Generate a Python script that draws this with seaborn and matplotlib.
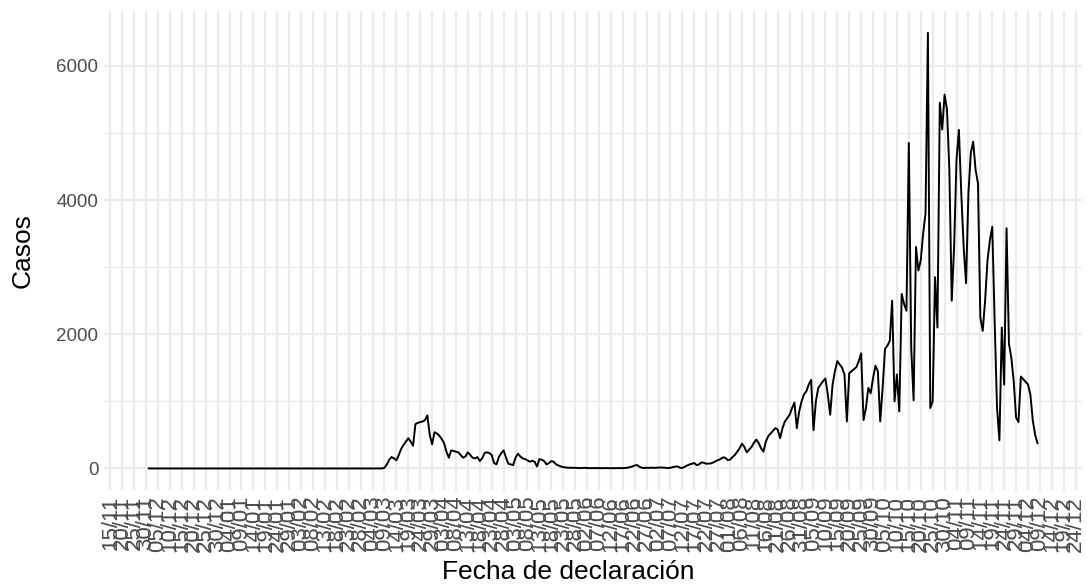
"""Casos diarios por fecha de declaración (línea simple, estilo minimal)."""

import logging

import pandas as pd
import matplotlib
matplotlib.use("Agg")
import matplotlib.pyplot as plt
import matplotlib.dates as mdates
from matplotlib.ticker import FixedLocator
import seaborn as sns

logging.basicConfig(level=logging.INFO, format='%(asctime)s - %(levelname)s - %(message)s')
logger = logging.getLogger(__name__)

# Serie diaria desde el 01/12/2019
fecha_inicio = "2019-12-01"

# 01/12/2019 - 07/03/2020: sin casos
casos_sin_casos = [
    0, 0, 0, 0, 0, 0, 0, 0, 0, 0, 0, 0, 0, 0,
    0, 0, 0, 0, 0, 0, 0, 0, 0, 0, 0, 0, 0, 0,
    0, 0, 0, 0, 0, 0, 0, 0, 0, 0, 0, 0, 0, 0,
    0, 0, 0, 0, 0, 0, 0, 0, 0, 0, 0, 0, 0, 0,
    0, 0, 0, 0, 0, 0, 0, 0, 0, 0, 0, 0, 0, 0,
    0, 0, 0, 0, 0, 0, 0, 0, 0, 0, 0, 0, 0, 0,
    0, 0, 0, 0, 0, 0, 0, 0, 0, 0, 0, 0, 0, 0,
]

# 08/03/2020 - 24/05/2020: primera ola
casos_primera_ola = [
    0, 10, 60, 130, 170, 150, 120, 200, 290, 350, 400, 450, 400, 340,
    660, 680, 690, 700, 720, 790, 500, 360, 540, 520, 490, 440, 380, 250,
    160, 270, 260, 250, 240, 200, 160, 180, 240, 200, 160, 150, 170, 110,
    150, 230, 240, 230, 200, 80, 60, 170, 230, 270, 160, 70, 60, 50,
    160, 220, 180, 150, 140, 120, 100, 115, 100, 30, 140, 130, 110, 60,
    80, 110, 100, 60, 45, 30, 20, 15,
]

# 25/05/2020 - 12/08/2020: valle
casos_valle = [
    10, 12, 8, 10, 7, 5, 8, 10, 6, 5, 4, 6, 5, 3, 4, 5, 6, 4, 3, 5,
    4, 6, 5, 4, 8, 10, 20, 30, 45, 50, 25, 10, 8, 10, 8, 12, 9, 10, 12, 15,
    12, 8, 6, 10, 20, 28, 30, 10, 8, 25, 45, 60, 70, 80, 50, 60, 90, 85, 70, 72,
    75, 90, 110, 125, 140, 165, 160, 125, 130, 170, 200, 250, 300, 370, 320, 240,
    280, 320, 380, 430,
]

# 13/08/2020 - 08/12/2020: segunda ola
casos_segunda_ola = [
    380, 300, 250, 400, 480, 520, 560, 600, 580, 450, 600, 700, 750, 800,
    900, 980, 600, 850, 1000, 1100, 1150, 1250, 1320, 570, 1000, 1200, 1250, 1300,
    1340, 1100, 800, 1250, 1450, 1600, 1550, 1500, 1400, 700, 1420,
    1450, 1480, 1510, 1600, 1716, 720, 900, 1200, 1120, 1350, 1530, 1450, 700,
    1200, 1780, 1830, 1900, 2500, 1000, 1400, 850, 2600, 2450, 2350, 4850, 1800,
    1015, 3300, 2950, 3100, 3500, 3800, 6490, 900, 1000, 2850, 2100, 5450, 5050,
    5570, 5350, 4450, 2500, 3300, 4600, 5045, 4100, 3300, 2760, 4100, 4700, 4870,
    4450, 4250, 2250, 2050, 2500, 3100, 3400, 3600, 2200, 900, 420, 2100, 1250,
    3580, 1860, 1650, 1300, 760, 690, 1370, 1330, 1290, 1250, 1100, 716, 500, 373,
]

# Etiquetas del eje x cada 5 días
inicio_etiquetas = "2019-11-15"
fin_etiquetas = "2020-12-31"
y_ticks = [0, 2000, 4000, 6000]
y_minor = [1000, 3000, 5000]

GRID = "#EBEBEB"
TICK_COLOR = "#4D4D4D"


def build_frame() -> pd.DataFrame:
    casos = casos_sin_casos + casos_primera_ola + casos_valle + casos_segunda_ola
    fechas = pd.date_range(fecha_inicio, periods=len(casos), freq="D")
    logger.info(f"{len(casos)} días: {fechas[0].date()} - {fechas[-1].date()}")
    return pd.DataFrame({"fecha": fechas, "casos": casos})


def plot_casos(df: pd.DataFrame, output_file: str = "out.png") -> None:
    sns.set_theme(style="white")
    plt.rcParams["font.family"] = ["Liberation Sans", "DejaVu Sans"]

    fig, ax = plt.subplots(figsize=(10.87, 5.85), dpi=100)
    fig.subplots_adjust(left=0.0957, right=0.9954, top=0.981, bottom=0.162)

    sns.lineplot(data=df, x="fecha", y="casos", color="black", linewidth=1.4, ax=ax)

    ax.margins(x=0.05, y=0.05)

    breaks = pd.date_range(inicio_etiquetas, fin_etiquetas, freq="5D")
    ax.xaxis.set_major_locator(FixedLocator(mdates.date2num(breaks)))
    ax.xaxis.set_major_formatter(mdates.DateFormatter("%d/%m"))
    ax.set_yticks(y_ticks)
    ax.yaxis.set_minor_locator(FixedLocator(y_minor))

    ax.grid(which="major", axis="both", color=GRID, linewidth=1.6)
    ax.grid(which="minor", axis="y", color=GRID, linewidth=0.9)
    ax.set_axisbelow(True)
    for s in ax.spines.values():
        s.set_visible(False)

    ax.tick_params(axis="y", which="both", length=0, colors=TICK_COLOR,
                   labelsize=13.5, pad=4)
    ax.tick_params(axis="x", which="both", length=0, colors=TICK_COLOR,
                   labelsize=16, pad=4)
    plt.setp(ax.get_xticklabels(), rotation=90, ha="center", va="top")

    ax.set_xlabel("Fecha de declaración", fontsize=19, color="black")
    ax.set_ylabel("Casos", fontsize=19, color="black")
    ax.xaxis.set_label_coords(0.475, -0.145)
    ax.yaxis.set_label_coords(-0.071, 0.5)

    fig.savefig(output_file, dpi=100)
    logger.info(f"Figura guardada en {output_file}")


def main() -> None:
    df = build_frame()
    plot_casos(df)


if __name__ == "__main__":
    main()
